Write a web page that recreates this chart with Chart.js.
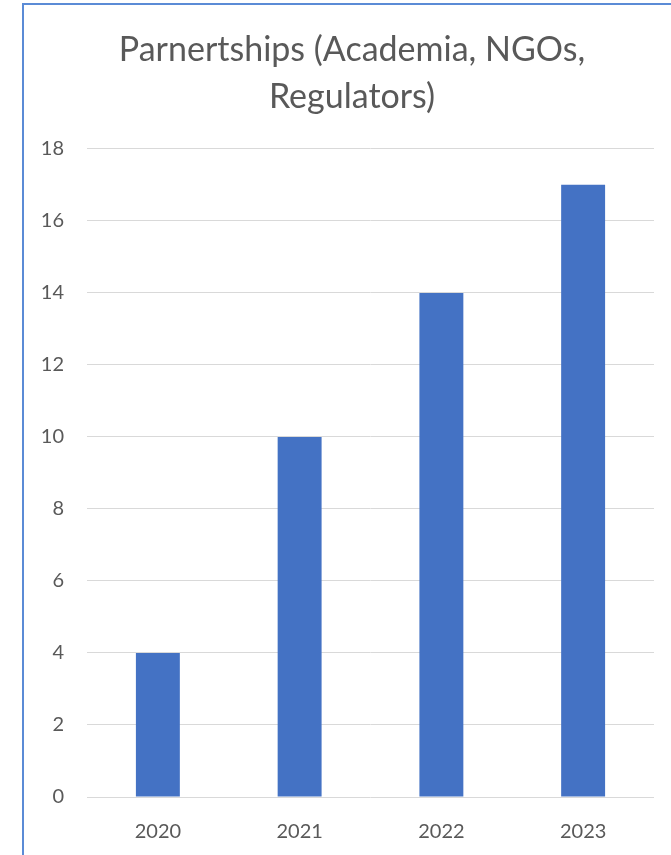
<!DOCTYPE html>
<html>
<head>
<meta charset="utf-8">
<script src="https://cdn.jsdelivr.net/npm/chart.js@4"></script>
<style>
  html, body { margin: 0; padding: 0; background: #fff; overflow: hidden; }
  .frame {
    position: absolute; left: 22px; top: 3px; width: 700px; height: 900px;
    border-left: 2px solid #5b8bd6; border-top: 2px solid #5b8bd6;
  }
  .wrap { position: absolute; left: 0; top: 0; width: 671px; height: 855px; }
</style>
</head>
<body>
<div class="frame"></div>
<div class="wrap"><canvas id="chart"></canvas></div>
<script>
// Partnerships per year
const years = ['2020', '2021', '2022', '2023'];
const partnerships = [4, 10, 14, 17];
const yTicks = { min: 0, max: 18, step: 2 };

const tickFont = { family: 'Lato', size: 20 };

const ctx = document.getElementById('chart').getContext('2d');
new Chart(ctx, {
  type: 'bar',
  data: {
    labels: years,
    datasets: [{
      label: 'Partnerships',
      data: partnerships,
      backgroundColor: '#4472c4',
      barPercentage: 0.31,
      categoryPercentage: 1
    }]
  },
  options: {
    responsive: true,
    maintainAspectRatio: false,
    animation: false,
    layout: { padding: { top: 10, right: 0, bottom: 0, left: 33 } },
    plugins: {
      legend: { display: false },
      tooltip: { enabled: false },
      title: {
        display: true,
        text: ['Parnertships (Academia, NGOs,', 'Regulators)'],
        color: '#595959',
        font: { family: 'Lato', size: 34, weight: 'normal', lineHeight: 1.38 },
        padding: { top: 17, bottom: 28 }
      }
    },
    scales: {
      x: {
        grid: { display: false },
        border: { display: false },
        ticks: { color: '#595959', font: tickFont, padding: 15 },
        afterFit: (scale) => { scale.height = 58; }
      },
      y: {
        min: yTicks.min,
        max: yTicks.max,
        grid: { color: '#d9d9d9', lineWidth: 1, drawTicks: false },
        border: { display: false },
        ticks: { stepSize: yTicks.step, color: '#595959', font: tickFont, padding: 23 },
        afterFit: (scale) => { scale.width = 54; }
      },
      // empty right-hand margin so the plot ends short of the edge
      spacer: {
        position: 'right',
        grid: { display: false },
        border: { display: false },
        ticks: { display: false },
        afterFit: (scale) => { scale.width = 17; }
      }
    }
  }
});
</script>
</body>
</html>
